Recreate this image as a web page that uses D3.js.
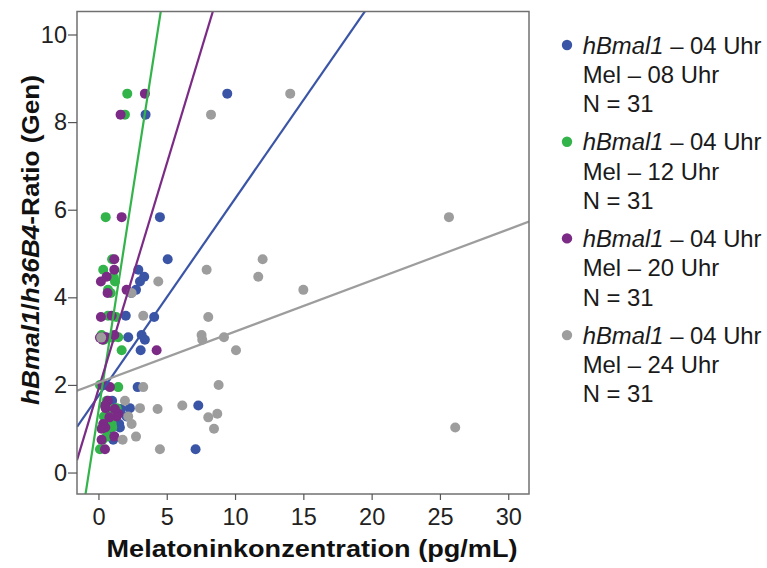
<!DOCTYPE html>
<html>
<head>
<meta charset="utf-8">
<script src="https://cdn.jsdelivr.net/npm/d3@7"></script>
<style>
  html, body { margin: 0; padding: 0; background: #fff; }
  svg { display: block; font-family: "Liberation Sans", Arial, sans-serif; }
</style>
</head>
<body>
<svg id="chart" width="767" height="568"></svg>
<script>
// ---- data ----
const geneRatio = [8.65, 8.17, 5.83, 4.87, 4.63, 4.47, 4.36, 4.17, 4.10, 3.58, 3.55, 3.14, 3.09, 3.08, 3.03, 2.79,
                   2.00, 1.95, 1.64, 1.53, 1.47, 1.45, 1.34, 1.28, 1.26, 1.11, 1.03, 1.00, 0.82, 0.75, 0.53];
const mel08 = [9.43, 3.45, 4.50, 5.07, 2.92, 3.35, 3.04, 2.75, 2.40, 2.00, 4.08, 3.16, 2.18, 0.60, 3.40, 3.09,
               0.50, 2.87, 1.00, 7.31, 2.30, 1.65, 1.30, 2.06, 0.90, 1.52, 1.57, 0.80, 1.16, 1.08, 7.11];
const mel12 = [2.11, 1.94, 0.53, 1.00, 0.35, 1.08, 1.21, 0.70, 0.90, 0.70, 1.30, 0.23, 1.45, 1.00, 0.40, 1.70,
               0.11, 1.45, 0.60, 0.50, 1.33, 0.90, 0.60, 0.40, 1.10, 0.97, 1.01, 0.60, 0.60, 0.30, 0.11];
const mel20 = [3.40, 1.62, 1.70, 1.16, 1.16, 0.60, 0.18, 2.06, 0.67, 0.97, 0.18, 1.16, 0.50, 0.11, 0.30, 4.26,
               0.30, 0.84, 0.70, 0.48, 0.53, 1.20, 1.45, 1.33, 0.80, 0.35, 0.50, 0.23, 1.16, 0.23, 0.48];
const mel24 = [14.04, 8.24, 25.66, 12.02, 7.92, 11.70, 4.38, 15.00, 2.43, 3.28, 8.04, 7.55, 9.19, 0.20, 7.60, 10.07,
               8.80, 3.28, 1.94, 6.14, 3.04, 4.33, 8.70, 2.18, 8.04, 2.43, 26.12, 8.46, 2.75, 1.77, 4.50];
const seriesLabels = ["Mel – 08 Uhr", "Mel – 12 Uhr", "Mel – 20 Uhr", "Mel – 24 Uhr"];
const seriesN = [31, 31, 31, 31];
const fitIntercept = [1.75, 1.40, 1.90, 2.05];
const fitSlope = [0.45, 2.00, 1.03, 0.1167];
const xTickValues = [0, 5, 10, 15, 20, 25, 30];
const yTickValues = [0, 2, 4, 6, 8, 10];

const colors = ["#3b55a6", "#33b44a", "#7b2b86", "#9d9d9d"];
const xSeries = [mel08, mel12, mel20, mel24];

// ---- layout ----
const svg = d3.select("#chart");
const L = 77, R = 529, T = 11.5, B = 494;
const x = d3.scaleLinear().domain([-1.57, 31.52]).range([L, R]);
const y = d3.scaleLinear().domain([-0.49, 10.525]).range([B, T]);

svg.append("defs").append("clipPath").attr("id", "plotclip")
  .append("rect").attr("x", L).attr("y", T).attr("width", R - L).attr("height", B - T);

// points
const gPts = svg.append("g").attr("clip-path", "url(#plotclip)");
xSeries.forEach((xs, si) => {
  gPts.selectAll(null).data(xs.map((v, i) => ({x: v, y: geneRatio[i]})))
    .enter().append("circle")
    .attr("cx", d => x(d.x)).attr("cy", d => y(d.y)).attr("r", 5)
    .attr("fill", colors[si]);
});

// fit lines
const gLines = svg.append("g").attr("clip-path", "url(#plotclip)");
fitIntercept.forEach((b, si) => {
  const m = fitSlope[si];
  const [x0, x1] = x.domain();
  gLines.append("line")
    .attr("x1", x(x0)).attr("y1", y(b + m * x0))
    .attr("x2", x(x1)).attr("y2", y(b + m * x1))
    .attr("stroke", colors[si]).attr("stroke-width", 2.2);
});

// frame
svg.append("rect").attr("x", L).attr("y", T).attr("width", R - L).attr("height", B - T)
  .attr("fill", "none").attr("stroke", "#707070").attr("stroke-width", 1.5);

// axes
const xAxis = svg.append("g").attr("transform", `translate(0,${B})`)
  .call(d3.axisBottom(x).tickValues(xTickValues).tickSize(6).tickPadding(8));
const yAxis = svg.append("g").attr("transform", `translate(${L},0)`)
  .call(d3.axisLeft(y).tickValues(yTickValues).tickSize(9).tickPadding(1));
[xAxis, yAxis].forEach(a => {
  a.select(".domain").remove();
  a.selectAll(".tick line").attr("stroke", "#555").attr("stroke-width", 1.2);
  a.selectAll(".tick text").attr("font-size", 23.5).attr("fill", "#222")
    .attr("font-family", "'Liberation Sans', Arial, sans-serif");
});

// helper: factor to stretch text horizontally to a target width
function stretch(sel, target) {
  const w = sel.node().getComputedTextLength();
  return target / w;
}

// x title
const xt = svg.append("text").attr("text-anchor", "middle").attr("font-size", 24.5)
  .attr("font-weight", "bold").attr("fill", "#111").text("Melatoninkonzentration (pg/mL)");
const sx = stretch(xt, 411);
xt.attr("transform", `translate(312,557) scale(${sx},1)`);

// y title
const yt = svg.append("text").attr("text-anchor", "middle").attr("font-size", 24.5)
  .attr("font-weight", "bold").attr("fill", "#111");
yt.append("tspan").attr("font-style", "italic").text("hBmal1");
yt.append("tspan").text("/");
yt.append("tspan").attr("font-style", "italic").text("h36B4");
yt.append("tspan").text("-Ratio (Gen)");
const sy = stretch(yt, 330);
yt.attr("transform", `translate(39,240) rotate(-90) scale(${sy},1)`);

// legend
const lg = svg.append("g");
seriesLabels.forEach((lab, i) => {
  const by = 53.5 + i * 96.7;
  lg.append("circle").attr("cx", 567).attr("cy", by - 8.5).attr("r", 5.2).attr("fill", colors[i]);
  const t1 = lg.append("text").attr("font-size", 23.5).attr("fill", "#1a1a1a");
  t1.append("tspan").attr("font-style", "italic").text("hBmal1");
  t1.append("tspan").text(" – 04 Uhr");
  const s = stretch(t1, 179);
  t1.attr("transform", `translate(582.7,${by}) scale(${s},1)`);
  lg.append("text").attr("font-size", 23.5).attr("fill", "#1a1a1a").text(lab)
    .attr("transform", `translate(582.7,${by + 29.5}) scale(${s},1)`);
  lg.append("text").attr("font-size", 23.5).attr("fill", "#1a1a1a").text("N = " + seriesN[i])
    .attr("transform", `translate(582.7,${by + 58.7}) scale(${s},1)`);
});
</script>
</body>
</html>
